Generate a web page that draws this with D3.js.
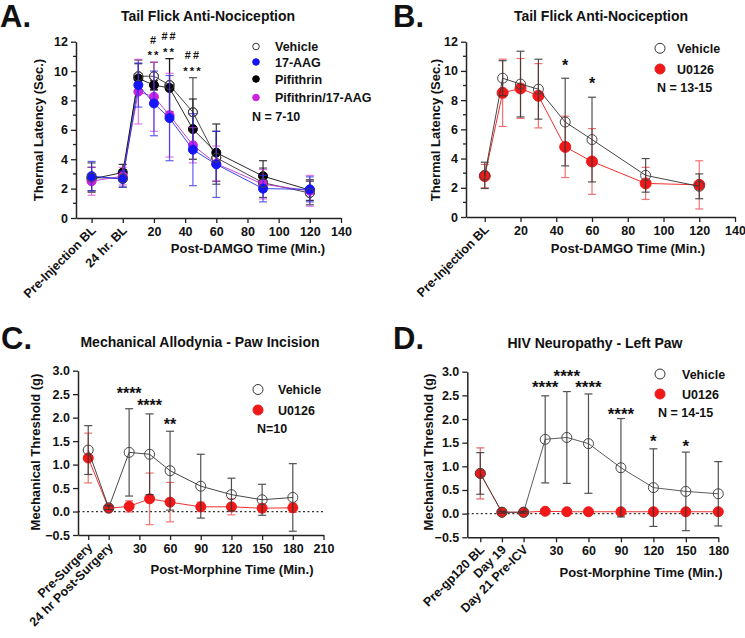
<!DOCTYPE html>
<html><head><meta charset="utf-8">
<script src="https://cdn.jsdelivr.net/npm/d3@7"></script>
<style>
body{margin:0;background:#fff}
svg{display:block}
text{font-family:"Liberation Sans",Arial,sans-serif;font-weight:bold;fill:#111}
</style>
</head><body><svg id="c" width="745" height="638"></svg>
<script>
// ---------- Panel A data ----------
const aX = [-20, 0, 10, 20, 30, 45, 60, 90, 120];
const aCatLabels = [{x:-20, t:"Pre-Injection BL"}, {x:0, t:"24 hr. BL"}];
const aXTicks = [-20, 0, 20, 40, 60, 80, 100, 120, 140];
const aYTicks = [0, 2, 4, 6, 8, 10, 12];
const vehicleA = [2.75, 2.7, 9.65, 9.65, 9.05, 7.2, 4.1, 2.4, 1.7];
const vehicleAErr = [1.0, 0.6, 1.1, 0.95, 1.8, 2.35, 1.8, 1.0, 0.8];
const pifA = [2.65, 3.1, 9.5, 9.05, 8.85, 6.05, 4.45, 2.85, 1.9];
const pifAErr = [0.8, 0.55, 1.0, 0.3, 2.0, 2.05, 1.95, 1.05, 0.7];
const comboA = [2.5, 2.85, 8.6, 8.25, 7.0, 4.95, 3.7, 2.3, 1.85];
const comboAErr = [0.95, 0.6, 2.2, 2.35, 2.85, 1.2, 1.2, 1.0, 1.05];
const aagA = [2.85, 2.65, 9.05, 7.8, 6.8, 4.65, 3.65, 2.0, 1.95];
const aagAErr = [1.0, 0.55, 1.5, 2.2, 2.9, 2.45, 2.25, 0.9, 0.85];
const aStars = [{x:20,y:11.3,t:"**"},{x:20,y:12.1,t:"#"},{x:30,y:11.5,t:"**"},{x:30,y:12.4,t:"##"},{x:45,y:10.2,t:"***"},{x:45,y:11.1,t:"##"}];

// ---------- Panel B data ----------
const bX = [0, 10, 20, 30, 45, 60, 90, 120];
const bCatLabels = [{x:0, t:"Pre-Injection BL"}];
const bXTicks = [0, 20, 40, 60, 80, 100, 120, 140];
const bYTicks = [0, 2, 4, 6, 8, 10, 12];
const vehicleB = [2.85, 9.5, 9.1, 8.75, 6.5, 5.3, 2.85, 2.1];
const vehicleBErr = [0.9, 1.2, 2.25, 2.05, 3.0, 2.9, 1.15, 0.85];
const u0126B = [2.8, 8.5, 8.8, 8.3, 4.8, 3.8, 2.3, 2.2];
const u0126BErr = [0.8, 2.3, 2.05, 2.2, 2.1, 2.25, 1.1, 1.65];
const bStars = [{x:45,y:10.6,t:"*"},{x:60,y:9.4,t:"*"}];

// ---------- Panel C data ----------
const cX = [-20, 0, 20, 40, 60, 90, 120, 150, 180];
const cCatLabels = [{x:-20, t:"Pre-Surgery"}, {x:0, t:"24 hr Post-Surgery"}];
const cXTicks = [-20, 0, 30, 60, 90, 120, 150, 180, 210];
const cYTicks = [-0.5, 0, 0.5, 1.0, 1.5, 2.0, 2.5, 3.0];
const vehicleC = [1.31, 0.08, 1.26, 1.22, 0.87, 0.54, 0.36, 0.25, 0.30];
const vehicleCErr = [0.52, 0.04, 0.93, 0.86, 0.84, 0.68, 0.35, 0.33, 0.72];
const u0126C = [1.14, 0.07, 0.11, 0.27, 0.20, 0.10, 0.10, 0.07, 0.08];
const u0126CErr = [0.53, 0.03, 0.12, 0.55, 0.42, 0.10, 0.17, 0.08, 0.10];
const cStars = [{x:20,y:2.6,t:"****"},{x:40,y:2.33,t:"****"},{x:60,y:1.93,t:"**"}];

// ---------- Panel D data ----------
const dX = [-40, -20, 0, 20, 40, 60, 90, 120, 150, 180];
const dCatLabels = [{x:-40, t:"Pre-gp120 BL"}, {x:-20, t:"Day 19"}, {x:0, t:"Day 21 Pre-ICV"}];
const dXTicks = [-40, -20, 0, 30, 60, 90, 120, 150, 180];
const dYTicks = [-0.5, 0, 0.5, 1.0, 1.5, 2.0, 2.5, 3.0];
const vehicleD = [0.85, 0.03, 0.03, 1.57, 1.61, 1.48, 0.97, 0.55, 0.47, 0.42];
const vehicleDErr = [0.44, 0.02, 0.02, 0.92, 0.97, 1.05, 1.04, 0.82, 0.83, 0.68];
const u0126D = [0.85, 0.03, 0.03, 0.05, 0.04, 0.04, 0.04, 0.04, 0.04, 0.04];
const u0126DErr = [0.54, 0.02, 0.02, 0.02, 0.02, 0.02, 0.02, 0.02, 0.02, 0.02];
const dStars = [{x:20,y:2.75,t:"****"},{x:40,y:2.99,t:"****"},{x:60,y:2.75,t:"****"},{x:90,y:2.19,t:"****"},{x:120,y:1.62,t:"*"},{x:150,y:1.52,t:"*"}];

// ---------- drawing ----------
const svg = d3.select("#c");
const AX = "#222";

function panel(cfg){
  const g = svg.append("g");
  const x = d3.scaleLinear().domain(cfg.xd).range(cfg.xr);
  const y = d3.scaleLinear().domain(cfg.yd).range(cfg.yr);
  g.append("text").attr("x", cfg.letter[1]).attr("y", cfg.letter[2]).attr("font-size", 31).attr("fill","#000").text(cfg.letter[0]);
  g.append("text").attr("x", cfg.title[1]).attr("y", cfg.title[2]).attr("text-anchor","middle").attr("font-size",14).text(cfg.title[0]);
  if (cfg.zeroLine) {
    g.append("line").attr("x1", cfg.xr[0]).attr("x2", cfg.xr[1]).attr("y1", y(0)).attr("y2", y(0))
      .attr("stroke","#333").attr("stroke-width",1.3).attr("stroke-dasharray","2,2.5");
  }
  const yAxis = d3.axisLeft(y).tickValues(cfg.yTicks).tickSize(5).tickSizeOuter(0).tickPadding(3).tickFormat(cfg.yFmt);
  const ya = g.append("g").attr("transform", `translate(${cfg.xr[0]},0)`).call(yAxis);
  if (cfg.yMinor) {
    cfg.yMinor.forEach(v => g.append("line").attr("x1", cfg.xr[0]-3).attr("x2", cfg.xr[0]).attr("y1", y(v)).attr("y2", y(v)).attr("stroke",AX).attr("stroke-width",1.3));
  }
  const xAxis = d3.axisBottom(x).tickValues(cfg.xTicks).tickSize(5).tickSizeOuter(0).tickPadding(4)
    .tickFormat(v => cfg.cats.some(c => c.x === v) ? "" : d3.format("d")(v));
  const xa = g.append("g").attr("transform", `translate(0,${cfg.yr[0]})`).call(xAxis);
  [ya, xa].forEach(a => {
    a.select(".domain").attr("stroke",AX).attr("stroke-width",1.5);
    a.selectAll(".tick line").attr("stroke",AX).attr("stroke-width",1.3);
    a.selectAll(".tick text").attr("font-size",12.5).attr("font-family",'"Liberation Sans",Arial,sans-serif').attr("font-weight","bold").attr("fill","#111");
  });
  cfg.cats.forEach(c => {
    g.append("text").attr("text-anchor","end").attr("font-size",12.5)
      .attr("transform", `translate(${x(c.x)+5},${cfg.yr[0]+13}) rotate(-45)`).text(c.t);
  });
  g.append("text").attr("text-anchor","middle").attr("font-size",13)
    .attr("x", cfg.xTitle[1]).attr("y", cfg.xTitle[2]).text(cfg.xTitle[0]);
  g.append("text").attr("text-anchor","middle").attr("font-size",13)
    .attr("transform", `translate(${cfg.yTitle[1]},${cfg.yTitle[2]}) rotate(-90)`).text(cfg.yTitle[0]);
  cfg.series.forEach(s => {
    const pts = s.xs.map((v,i) => ({x:v, y:s.ys[i], e:s.err[i]}));
    const eb = g.append("g").attr("stroke", s.errColor).attr("stroke-width",1.2).attr("opacity", s.errOp || 0.85);
    pts.forEach(p => {
      eb.append("line").attr("x1",x(p.x)).attr("x2",x(p.x)).attr("y1",y(p.y-p.e)).attr("y2",y(p.y+p.e));
      [p.y-p.e, p.y+p.e].forEach(v => eb.append("line").attr("x1",x(p.x)-4).attr("x2",x(p.x)+4).attr("y1",y(v)).attr("y2",y(v)));
    });
    g.append("path").datum(pts).attr("fill","none").attr("stroke", s.lineColor).attr("stroke-width",1).attr("opacity", s.lineOp || 0.9)
      .attr("d", d3.line().x(d=>x(d.x)).y(d=>y(d.y)));
    g.selectAll(null).data(pts).enter().append("circle")
      .attr("cx", d=>x(d.x)).attr("cy", d=>y(d.y)).attr("r", s.r)
      .attr("fill", s.fill).attr("stroke", s.stroke).attr("stroke-width", s.sw || 1);
  });
  cfg.stars.forEach(st => {
    const isHash = st.t.includes("#");
    const fs = cfg.starSize;
    g.append("text").attr("text-anchor","middle").attr("font-size", isHash ? fs*0.95 : fs)
      .attr("font-weight", isHash ? "normal" : "bold")
      .attr("letter-spacing", cfg.starSpacing).attr("fill", cfg.starColor)
      .attr("x", x(st.x)).attr("y", y(st.y) + (isHash ? 0.36 : 0.58)*fs).text(st.t);
  });
  cfg.legend.items.forEach((it, i) => {
    const ly = cfg.legend.ys[i];
    g.append("circle").attr("cx", cfg.legend.mx).attr("cy", ly).attr("r", cfg.legend.r)
      .attr("fill", it.fill).attr("stroke", it.stroke).attr("stroke-width",1);
    g.append("text").attr("x", cfg.legend.tx).attr("y", ly+4.5).attr("font-size",12.5).text(it.t);
  });
  g.append("text").attr("x", cfg.legend.nx).attr("y", cfg.legend.ny+4.5).attr("font-size",12.5).attr("font-weight","normal").attr("fill","#111").text(cfg.legend.n);
}

const RED = "#f01818";

panel({
  letter:["A.",0,27], title:["Tail Flick Anti-Nociception",208,21],
  xd:[-30,140], xr:[76,341], yd:[0,12], yr:[218,41.7],
  xTicks:aXTicks, yTicks:aYTicks, yMinor:[1,3,5,7,9,11], yFmt:d3.format("d"), cats:aCatLabels,
  xTitle:["Post-DAMGO Time (Min.)",248,253], yTitle:["Thermal Latency (Sec.)",43,130],
  series:[
    {xs:aX, ys:vehicleA, err:vehicleAErr, errColor:"#333", lineColor:"#333", fill:"none", stroke:"#333", r:4.5},
    {xs:aX, ys:pifA, err:pifAErr, errColor:"#111", lineColor:"#111", fill:"#000", stroke:"#000", r:4.5},
    {xs:aX, ys:comboA, err:comboAErr, errColor:"#d040e0", lineColor:"#c030d8", fill:"#cc22dd", stroke:"#cc22dd", r:4.5, errOp:0.7},
    {xs:aX, ys:aagA, err:aagAErr, errColor:"#2a2aee", lineColor:"#2233ee", fill:"#1515f5", stroke:"#1515f5", r:4.5, errOp:0.75},
    {xs:aX, ys:vehicleA, err:vehicleA.map(()=>0), errColor:"none", lineColor:"none", fill:"none", stroke:"#444", r:4.5}
  ],
  stars:aStars, starSize:11.5, starSpacing:2, starColor:"#555",
  legend:{mx:256, tx:275, r:3.3, ys:[46.5,62,79,97.5], nx:252, ny:116.5, n:"N = 7-10",
    items:[{t:"Vehicle",fill:"#fff",stroke:"#333"},{t:"17-AAG",fill:"#1515f5",stroke:"#1515f5"},{t:"Pifithrin",fill:"#000",stroke:"#000"},{t:"Pifithrin/17-AAG",fill:"#cc22dd",stroke:"#cc22dd"}]}
});

panel({
  letter:["B.",393,27], title:["Tail Flick Anti-Nociception",601,21],
  xd:[-10.5,140], xr:[466,735], yd:[0,12], yr:[217,41.7],
  xTicks:bXTicks, yTicks:bYTicks, yMinor:[1,3,5,7,9,11], yFmt:d3.format("d"), cats:bCatLabels,
  xTitle:["Post-DAMGO Time (Min.)",628,253], yTitle:["Thermal Latency (Sec.)",440,130],
  series:[
    {xs:bX, ys:u0126B, err:u0126BErr, errColor:"#f05050", lineColor:RED, fill:RED, stroke:RED, r:5.5, errOp:0.8},
    {xs:bX, ys:vehicleB, err:vehicleBErr, errColor:"#333", lineColor:"#333", fill:"none", stroke:"#444", r:5}
  ],
  stars:bStars, starSize:16, starSpacing:0, starColor:"#111",
  legend:{mx:660, tx:677, r:5, ys:[48.3,69], nx:657, ny:87.5, n:"N = 13-15",
    items:[{t:"Vehicle",fill:"#fff",stroke:"#333"},{t:"U0126",fill:RED,stroke:RED}]}
});

panel({
  letter:["C.",1,349], title:["Mechanical Allodynia - Paw Incision",200,347],
  xd:[-30,210], xr:[78,323.5], yd:[-0.5,3], yr:[535,370.7],
  xTicks:cXTicks, yTicks:cYTicks, yMinor:null, yFmt:d3.format(".1f"), cats:cCatLabels, zeroLine:true,
  xTitle:["Post-Morphine Time (Min.)",232,574], yTitle:["Mechanical Threshold (g)",40,452],
  series:[
    {xs:cX, ys:u0126C, err:u0126CErr, errColor:"#f05050", lineColor:RED, fill:RED, stroke:RED, r:5, errOp:0.8},
    {xs:cX, ys:vehicleC, err:vehicleCErr, errColor:"#333", lineColor:"#333", fill:"none", stroke:"#444", r:5}
  ],
  stars:cStars, starSize:16, starSpacing:0, starColor:"#111",
  legend:{mx:258, tx:278, r:5, ys:[389.5,410], nx:257, ny:428.5, n:"N=10",
    items:[{t:"Vehicle",fill:"#fff",stroke:"#333"},{t:"U0126",fill:RED,stroke:RED}]}
});

panel({
  letter:["D.",393,349], title:["HIV Neuropathy - Left Paw",595,348],
  xd:[-52,180], xr:[467.3,718.3], yd:[-0.5,3], yr:[537.3,371.7],
  xTicks:dXTicks, yTicks:dYTicks, yMinor:null, yFmt:d3.format(".1f"), cats:dCatLabels, zeroLine:true,
  xTitle:["Post-Morphine Time (Min.)",641,577], yTitle:["Mechanical Threshold (g)",433,452],
  series:[
    {xs:dX, ys:u0126D, err:u0126DErr, errColor:"#e04040", lineColor:RED, fill:RED, stroke:RED, r:5, errOp:0.8},
    {xs:dX, ys:vehicleD, err:vehicleDErr, errColor:"#333", lineColor:"#333", fill:"none", stroke:"#444", r:5, lineOp:0.8}
  ],
  stars:dStars, starSize:17, starSpacing:0, starColor:"#111",
  legend:{mx:660, tx:682, r:5, ys:[374,394], nx:658, ny:412.5, n:"N = 14-15",
    items:[{t:"Vehicle",fill:"#fff",stroke:"#333"},{t:"U0126",fill:RED,stroke:RED}]}
});
</script>
</body></html>
